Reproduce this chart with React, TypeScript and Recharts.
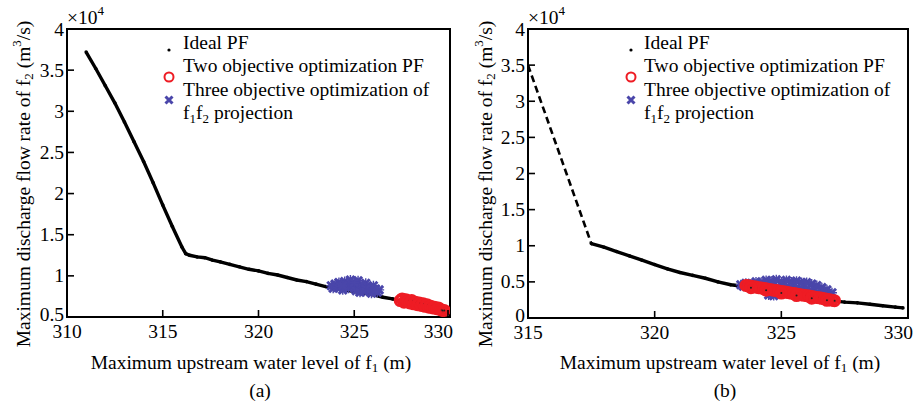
import React from 'react';
import { ScatterChart, Scatter, XAxis, YAxis, ReferenceArea, Legend } from 'recharts';

const FONT = '"Liberation Serif", "Times New Roman", serif';
const FS = 19.5;
const SUB = 13;
const RED = '#ee1c24';
const BLUE = '#4a46aa';

// ---------- Panel (a) ----------
const xTicksA = [310, 315, 320, 325, 330];
const yTicksA = [0.5, 1, 1.5, 2, 2.5, 3, 3.5, 4];

const idealA_x = [311.0, 311.5, 312.0, 312.5, 313.0, 313.5, 314.0, 314.5, 315.0, 315.5, 316.0, 316.2, 316.4, 316.8, 317.2, 317.6, 318.0, 318.5, 319.0, 319.5, 320.0, 320.5, 321.0, 321.5, 322.0, 322.5, 323.0, 323.5, 324.0, 324.5, 325.0, 325.5, 326.0, 326.5, 327.0, 327.5, 328.0, 328.5, 329.0, 329.5, 330.0];
const idealA_y = [3.72, 3.52, 3.31, 3.10, 2.87, 2.63, 2.39, 2.13, 1.86, 1.60, 1.35, 1.27, 1.25, 1.23, 1.22, 1.19, 1.17, 1.14, 1.11, 1.08, 1.06, 1.03, 1.01, 0.98, 0.95, 0.93, 0.90, 0.87, 0.85, 0.83, 0.81, 0.79, 0.77, 0.74, 0.72, 0.69, 0.66, 0.63, 0.60, 0.57, 0.55];

const threeA_x = [323.8, 323.9, 324.0, 324.1, 324.2, 324.3, 324.4, 324.5, 324.6, 324.7, 324.8, 324.9, 325.0, 325.1, 325.2, 325.3, 325.4, 325.5, 325.6, 325.7, 325.8, 325.9, 326.0, 326.1, 326.2, 326.3, 324.4, 325.0, 325.6, 325.3];
const threeA_y = [0.88, 0.85, 0.90, 0.86, 0.92, 0.87, 0.83, 0.93, 0.89, 0.85, 0.95, 0.90, 0.86, 0.82, 0.94, 0.89, 0.85, 0.81, 0.91, 0.87, 0.83, 0.79, 0.88, 0.84, 0.80, 0.83, 0.88, 0.92, 0.84, 0.80];

const twoA_x = [327.4, 327.5, 327.6, 327.7, 327.8, 327.9, 328.0, 328.1, 328.2, 328.3, 328.4, 328.5, 328.6, 328.7, 328.8, 328.9, 329.0, 329.1, 329.2, 329.3, 329.4, 329.5, 329.6, 329.7];
const twoA_y = [0.70, 0.72, 0.68, 0.71, 0.69, 0.67, 0.70, 0.66, 0.68, 0.65, 0.67, 0.64, 0.66, 0.63, 0.65, 0.62, 0.63, 0.61, 0.62, 0.60, 0.61, 0.59, 0.58, 0.58];

// ---------- Panel (b) ----------
const xTicksB = [315, 320, 325, 330];
const yTicksB = [0, 0.5, 1, 1.5, 2, 2.5, 3, 3.5, 4];

const dashB_x = [315.0, 317.5];
const dashB_y = [3.50, 1.03];

const idealB_x = [317.5, 318.0, 318.5, 319.0, 319.5, 320.0, 320.5, 321.0, 321.5, 322.0, 322.5, 323.0, 323.5, 324.0, 324.5, 325.0, 325.5, 326.0, 326.5, 327.0, 327.5, 328.0, 328.5, 329.0, 329.5, 329.8];
const idealB_y = [1.03, 0.98, 0.92, 0.86, 0.80, 0.74, 0.68, 0.63, 0.59, 0.55, 0.50, 0.46, 0.44, 0.41, 0.38, 0.35, 0.32, 0.29, 0.27, 0.24, 0.22, 0.21, 0.19, 0.17, 0.15, 0.14];

const threeB_x = [323.4, 323.6, 323.8, 324.0, 324.2, 324.4, 324.6, 324.8, 325.0, 325.2, 325.4, 325.6, 325.8, 326.0, 326.2, 326.4, 326.6, 326.8, 327.0, 323.5, 323.9, 324.3, 324.7, 325.1, 325.5, 325.9, 326.3, 326.7, 324.1, 324.5, 324.9, 325.3, 325.7, 326.1, 326.5, 324.5, 324.7];
const threeB_y = [0.46, 0.48, 0.47, 0.50, 0.49, 0.52, 0.51, 0.53, 0.50, 0.52, 0.50, 0.51, 0.49, 0.49, 0.47, 0.45, 0.42, 0.39, 0.35, 0.44, 0.45, 0.47, 0.46, 0.46, 0.45, 0.43, 0.41, 0.37, 0.43, 0.43, 0.42, 0.41, 0.40, 0.38, 0.34, 0.32, 0.31];

const twoB_x = [323.6, 323.7, 323.8, 323.9, 324.0, 324.1, 324.2, 324.3, 324.4, 324.5, 324.6, 324.7, 324.8, 324.9, 325.0, 325.1, 325.2, 325.3, 325.4, 325.5, 325.6, 325.7, 325.8, 325.9, 326.0, 326.1, 326.2, 326.3, 326.4, 326.5, 326.6, 326.7, 326.8, 326.9, 327.0, 327.1, 323.8, 324.4, 325.0, 325.6, 326.2, 326.8];
const twoB_y = [0.450, 0.445, 0.440, 0.432, 0.428, 0.420, 0.416, 0.410, 0.404, 0.396, 0.392, 0.385, 0.380, 0.372, 0.368, 0.362, 0.355, 0.350, 0.343, 0.338, 0.332, 0.326, 0.320, 0.315, 0.308, 0.303, 0.297, 0.290, 0.285, 0.279, 0.272, 0.266, 0.260, 0.253, 0.247, 0.240, 0.420, 0.385, 0.345, 0.310, 0.275, 0.245];

const legendLabels = ['Ideal PF', 'Two objective optimization PF', 'Three objective optimization of'];

const zip = (xs: number[], ys: number[]) => xs.map((x, i) => ({ x, y: ys[i] }));

// ---------- shapes ----------
const DotShape = (p: any) => <circle cx={p.cx} cy={p.cy} r={1.8} fill="#000" />;
const NoShape = () => <g />;
const CircleShape = (p: any) => (
  <g>
    <circle cx={p.cx} cy={p.cy} r={5} fill="none" stroke={RED} strokeWidth={3} />
    <circle cx={p.cx} cy={p.cy} r={1} fill="#222" />
  </g>
);
const StarShape = (p: any) => {
  const { cx, cy } = p;
  return (
    <g>
      <path d={`M${cx - 4},${cy - 4}L${cx + 4},${cy + 4}M${cx + 4},${cy - 4}L${cx - 4},${cy + 4}`} stroke={BLUE} strokeWidth={3} />
      <path d={`M${cx},${cy - 5}L${cx},${cy + 5}M${cx - 5},${cy}L${cx + 5},${cy}`} stroke={BLUE} strokeWidth={1.4} />
    </g>
  );
};

// ---------- ticks ----------
const makeYTick = (first: number) => (props: any) => {
  const { x, y, payload } = props;
  const isFirst = payload.value === first;
  return (
    <g>
      <line x1={x} x2={x + 7} y1={y} y2={y} stroke="#000" strokeWidth={1.6} />
      <text x={x - 3} y={isFirst ? y - 3 : y} textAnchor="end" dominantBaseline="central" fontFamily={FONT} fontSize={FS} fill="#000">
        {String(payload.value)}
      </text>
    </g>
  );
};
const YTickA = makeYTick(0.5);
const YTickB = makeYTick(0);

const makeXTick = (last: number) => (props: any) => {
  const { x, y, payload } = props;
  const isLast = payload.value === last;
  return (
    <g>
      <line x1={x} x2={x} y1={y} y2={y - 7} stroke="#000" strokeWidth={1.6} />
      <text x={isLast ? x + 5 : x} y={y + 14} textAnchor={isLast ? 'end' : 'middle'} dominantBaseline="central" fontFamily={FONT} fontSize={FS} fill="#000">
        {String(payload.value)}
      </text>
    </g>
  );
};
const XTickA = makeXTick(330);
const XTickB = makeXTick(330);

const YLabel = ({ cx, cy, expX }: any) => (
  <g>
    <text transform={`translate(${cx},${cy}) rotate(-90)`} textAnchor="middle" dominantBaseline="central" fontFamily={FONT} fontSize={FS} fill="#000">
      Maximum discharge flow rate of f<tspan dy={5} fontSize={SUB}>2</tspan>
      <tspan dy={-5}> (m</tspan><tspan dy={-7} fontSize={SUB}>3</tspan><tspan dy={7}>/s)</tspan>
    </text>
    <text x={expX} y={24} fontFamily={FONT} fontSize={FS} fill="#000">
      ×10<tspan dy={-9} fontSize={SUB}>4</tspan>
    </text>
  </g>
);

const XLabel = ({ cx, cap, capX }: any) => (
  <g>
    <text x={cx} y={362} textAnchor="middle" dominantBaseline="central" fontFamily={FONT} fontSize={FS} fill="#000">
      Maximum upstream water level of f<tspan dy={5} fontSize={SUB}>1</tspan><tspan dy={-5}> (m)</tspan>
    </text>
    <text x={capX} y={390} textAnchor="middle" dominantBaseline="central" fontFamily={FONT} fontSize={FS} fill="#000">
      {cap}
    </text>
  </g>
);

const LegendBox = ({ textLeft }: any) => (
  <div style={{ position: 'relative', width: 300, height: 100, fontFamily: FONT, fontSize: FS, color: '#000', lineHeight: '23.4px' }}>
    <svg width={20} height={100} style={{ position: 'absolute', left: 0, top: 0 }}>
      <circle cx={10} cy={19} r={1.6} fill="#000" />
      <circle cx={10} cy={46} r={4.5} fill="none" stroke={RED} strokeWidth={2} />
      <path d="M6.5,65.5L13.5,72.5M13.5,65.5L6.5,72.5" stroke={BLUE} strokeWidth={3} />
    </svg>
    <div style={{ position: 'absolute', left: textLeft, top: 0, whiteSpace: 'nowrap', textAlign: 'left' }}>
      <div>{legendLabels[0]}</div>
      <div>{legendLabels[1]}</div>
      <div>{legendLabels[2]}</div>
      <div>
        f<span style={{ fontSize: SUB, position: 'relative', top: 4 }}>1</span>f
        <span style={{ fontSize: SUB, position: 'relative', top: 4 }}>2</span> projection
      </div>
    </div>
  </div>
);

type PanelProps = {
  margin: { top: number; right: number; bottom: number; left: number };
  xDomain: [number, number];
  yDomain: [number, number];
  xTicks: number[];
  yTicks: number[];
  xTick: any;
  yTick: any;
  ideal: { x: number; y: number }[];
  dash?: { x: number; y: number }[];
  three: { x: number; y: number }[];
  two: { x: number; y: number }[];
  yLabelCx: number;
  xLabelCx: number;
  cap: string;
  capX: number;
  expX: number;
  legendLeft: number;
  legendTextLeft: number;
};

const Panel = (p: PanelProps) => {
  const XT = p.xTick;
  const YT = p.yTick;
  return (
    <ScatterChart width={460} height={403} margin={p.margin}>
      <XAxis
        type="number"
        dataKey="x"
        domain={p.xDomain}
        ticks={p.xTicks}
        allowDataOverflow
        height={30}
        tickSize={0}
        tickMargin={0}
        tick={<XT />}
        axisLine={{ stroke: '#000', strokeWidth: 2 }}
        label={<XLabel cx={p.xLabelCx} cap={p.cap} capX={p.capX} />}
      />
      <YAxis
        type="number"
        dataKey="y"
        domain={p.yDomain}
        ticks={p.yTicks}
        allowDataOverflow
        width={40}
        tickSize={0}
        tickMargin={0}
        tick={<YT />}
        axisLine={{ stroke: '#000', strokeWidth: 2 }}
        label={<YLabel cx={p.yLabelCx} cy={184} expX={p.expX} />}
      />
      <ReferenceArea x1={p.xDomain[0]} x2={p.xDomain[1]} y1={p.yDomain[0]} y2={p.yDomain[1]} fill="none" stroke="#000" strokeWidth={2} ifOverflow="visible" />
      {p.dash && (
        <Scatter data={p.dash} line={{ stroke: '#000', strokeWidth: 2.6, strokeDasharray: '7 4' }} shape={NoShape} isAnimationActive={false} />
      )}
      <Scatter data={p.ideal} line={{ stroke: '#000', strokeWidth: 3.4 }} shape={DotShape} isAnimationActive={false} />
      <Scatter data={p.three} shape={StarShape} isAnimationActive={false} />
      <Scatter data={p.two} shape={CircleShape} isAnimationActive={false} />
      <Legend
        layout="vertical"
        align="center"
        verticalAlign="middle"
        content={() => <LegendBox textLeft={p.legendTextLeft} />}
        wrapperStyle={{ left: p.legendLeft, top: 31, width: 300, height: 100 }}
      />
    </ScatterChart>
  );
};

export default function App() {
  return (
    <div style={{ position: 'absolute', left: 0, top: 0, width: 922, height: 403, background: '#fff', fontFamily: FONT }}>
      <div style={{ position: 'absolute', left: 0, top: 0 }}>
        <Panel
          margin={{ top: 29, right: 10, bottom: 56, left: 27 }}
          xDomain={[310, 330]}
          yDomain={[0.5, 4]}
          xTicks={xTicksA}
          yTicks={yTicksA}
          xTick={XTickA}
          yTick={YTickA}
          ideal={zip(idealA_x, idealA_y)}
          three={zip(threeA_x, threeA_y)}
          two={zip(twoA_x, twoA_y)}
          yLabelCx={23}
          xLabelCx={251}
          cap="(a)"
          capX={260}
          expX={67}
          legendLeft={159}
          legendTextLeft={24}
        />
      </div>
      <div style={{ position: 'absolute', left: 460, top: 0 }}>
        <Panel
          margin={{ top: 29, right: 12, bottom: 55, left: 28 }}
          xDomain={[315, 330]}
          yDomain={[0, 4]}
          xTicks={xTicksB}
          yTicks={yTicksB}
          xTick={XTickB}
          yTick={YTickB}
          ideal={zip(idealB_x, idealB_y)}
          dash={zip(dashB_x, dashB_y)}
          three={zip(threeB_x, threeB_y)}
          two={zip(twoB_x, twoB_y)}
          yLabelCx={25}
          xLabelCx={260}
          cap="(b)"
          capX={265}
          expX={68}
          legendLeft={161}
          legendTextLeft={23}
        />
      </div>
    </div>
  );
}
